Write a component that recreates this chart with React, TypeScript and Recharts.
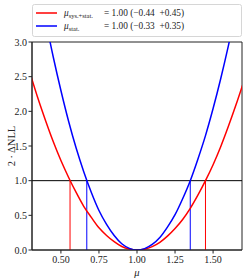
import { LineChart, Line, XAxis, YAxis, ReferenceLine, ReferenceArea } from "recharts";

// scan points of mu and the two 2*dNLL profiles
const muPoints = [
  0.3, 0.35, 0.4, 0.45, 0.5, 0.55, 0.6, 0.65, 0.7, 0.75, 0.8, 0.85, 0.9, 0.95, 1.0,
  1.05, 1.1, 1.15, 1.2, 1.25, 1.3, 1.35, 1.4, 1.45, 1.5, 1.55, 1.6, 1.65, 1.7,
];
const sysStatNll = [
  2.53, 2.18, 1.86, 1.56, 1.29, 1.05, 0.83, 0.63, 0.47, 0.32, 0.21, 0.12, 0.05, 0.013, 0,
  0.012, 0.049, 0.11, 0.2, 0.31, 0.44, 0.6, 0.79, 1.0, 1.23, 1.49, 1.78, 2.09, 2.42,
];
const statNll = [
  4.5, 3.88, 3.31, 2.78, 2.3, 1.86, 1.47, 1.13, 0.83, 0.57, 0.37, 0.21, 0.09, 0.023, 0,
  0.02, 0.08, 0.18, 0.33, 0.51, 0.74, 1.0, 1.31, 1.65, 2.04, 2.47, 2.94, 3.45, 4.0,
];

// 1 sigma intervals
const sysStatBand = [0.56, 1.45];
const statBand = [0.67, 1.35];

const xTicks = [0.5, 0.75, 1.0, 1.25, 1.5];
const yTicks = [0, 0.5, 1, 1.5, 2, 2.5, 3];

const RED = "#ff0000";
const BLUE = "#0000ff";
const FONT = "'Liberation Serif', serif";

const data = muPoints.map((m, i) => ({ mu: m, sysStat: sysStatNll[i], stat: statNll[i] }));

const LegendBox = () => (
  <svg width={249} height={40} style={{ position: "absolute", left: 0, top: 0 }}>
    <rect x={32.5} y={4.5} width={209} height={32} rx={2} fill="#fff" stroke="#d6d6d6" />
    <line x1={36} x2={57} y1={13} y2={13} stroke={RED} strokeWidth={1.5} />
    <line x1={36} x2={57} y1={26} y2={26} stroke={BLUE} strokeWidth={1.5} />
    <g fontFamily={FONT} fontSize={9.3} fill="#222">
      <text x={64} y={16}>
        <tspan fontStyle="italic">μ</tspan>
        <tspan fontSize={6.5} dy={2}>sys.+stat.</tspan>
      </text>
      <text x={104} y={16} style={{ whiteSpace: "pre" }}>= 1.00 (−0.44  +0.45)</text>
      <text x={64} y={29}>
        <tspan fontStyle="italic">μ</tspan>
        <tspan fontSize={6.5} dy={2}>stat.</tspan>
      </text>
      <text x={104} y={29} style={{ whiteSpace: "pre" }}>= 1.00 (−0.33  +0.35)</text>
    </g>
  </svg>
);

export default function App() {
  const tick = { fill: "#222", fontSize: 10, fontFamily: FONT };
  return (
    <div style={{ position: "fixed", left: 0, top: 0, width: 249, height: 280, background: "#fff" }}>
      <LineChart width={249} height={280} data={data} margin={{ top: 42, right: 7, bottom: 0, left: 0 }}>
        <XAxis
          type="number"
          dataKey="mu"
          domain={[0.31, 1.69]}
          allowDataOverflow
          ticks={xTicks}
          tickFormatter={(v) => v.toFixed(2)}
          tick={tick}
          tickSize={3.5}
          tickMargin={2}
          stroke="#222"
          height={30}
        />
        <YAxis
          domain={[0, 3]}
          allowDataOverflow
          ticks={yTicks}
          tickFormatter={(v) => v.toFixed(1)}
          tick={tick}
          tickSize={3.5}
          tickMargin={1.5}
          stroke="#222"
          width={32}
        />
        <ReferenceLine y={1} stroke="#000" strokeWidth={1} />
        <ReferenceLine segment={[{ x: sysStatBand[0], y: 0 }, { x: sysStatBand[0], y: 1 }]} stroke={RED} strokeWidth={1} />
        <ReferenceLine segment={[{ x: sysStatBand[1], y: 0 }, { x: sysStatBand[1], y: 1 }]} stroke={RED} strokeWidth={1} />
        <ReferenceLine segment={[{ x: statBand[0], y: 0 }, { x: statBand[0], y: 1 }]} stroke={BLUE} strokeWidth={1} />
        <ReferenceLine segment={[{ x: statBand[1], y: 0 }, { x: statBand[1], y: 1 }]} stroke={BLUE} strokeWidth={1} />
        <Line type="monotone" dataKey="sysStat" stroke={RED} strokeWidth={1.5} dot={false} isAnimationActive={false} />
        <Line type="monotone" dataKey="stat" stroke={BLUE} strokeWidth={1.5} dot={false} isAnimationActive={false} />
        <ReferenceArea x1={0.31} x2={1.69} y1={0} y2={3} fill="none" stroke="#222" strokeWidth={1} ifOverflow="visible" />
      </LineChart>
      <LegendBox />
      <div
        style={{
          position: "absolute", left: 11, top: 146, transform: "translate(-50%, -50%) rotate(-90deg)",
          fontFamily: FONT, fontSize: 10.5, color: "#222", whiteSpace: "nowrap",
        }}
      >
        2 · ΔNLL
      </div>
      <div
        style={{
          position: "absolute", left: 137, top: 272, transform: "translate(-50%, -50%)",
          fontFamily: FONT, fontSize: 10.5, fontStyle: "italic", color: "#222",
        }}
      >
        μ
      </div>
    </div>
  );
}
